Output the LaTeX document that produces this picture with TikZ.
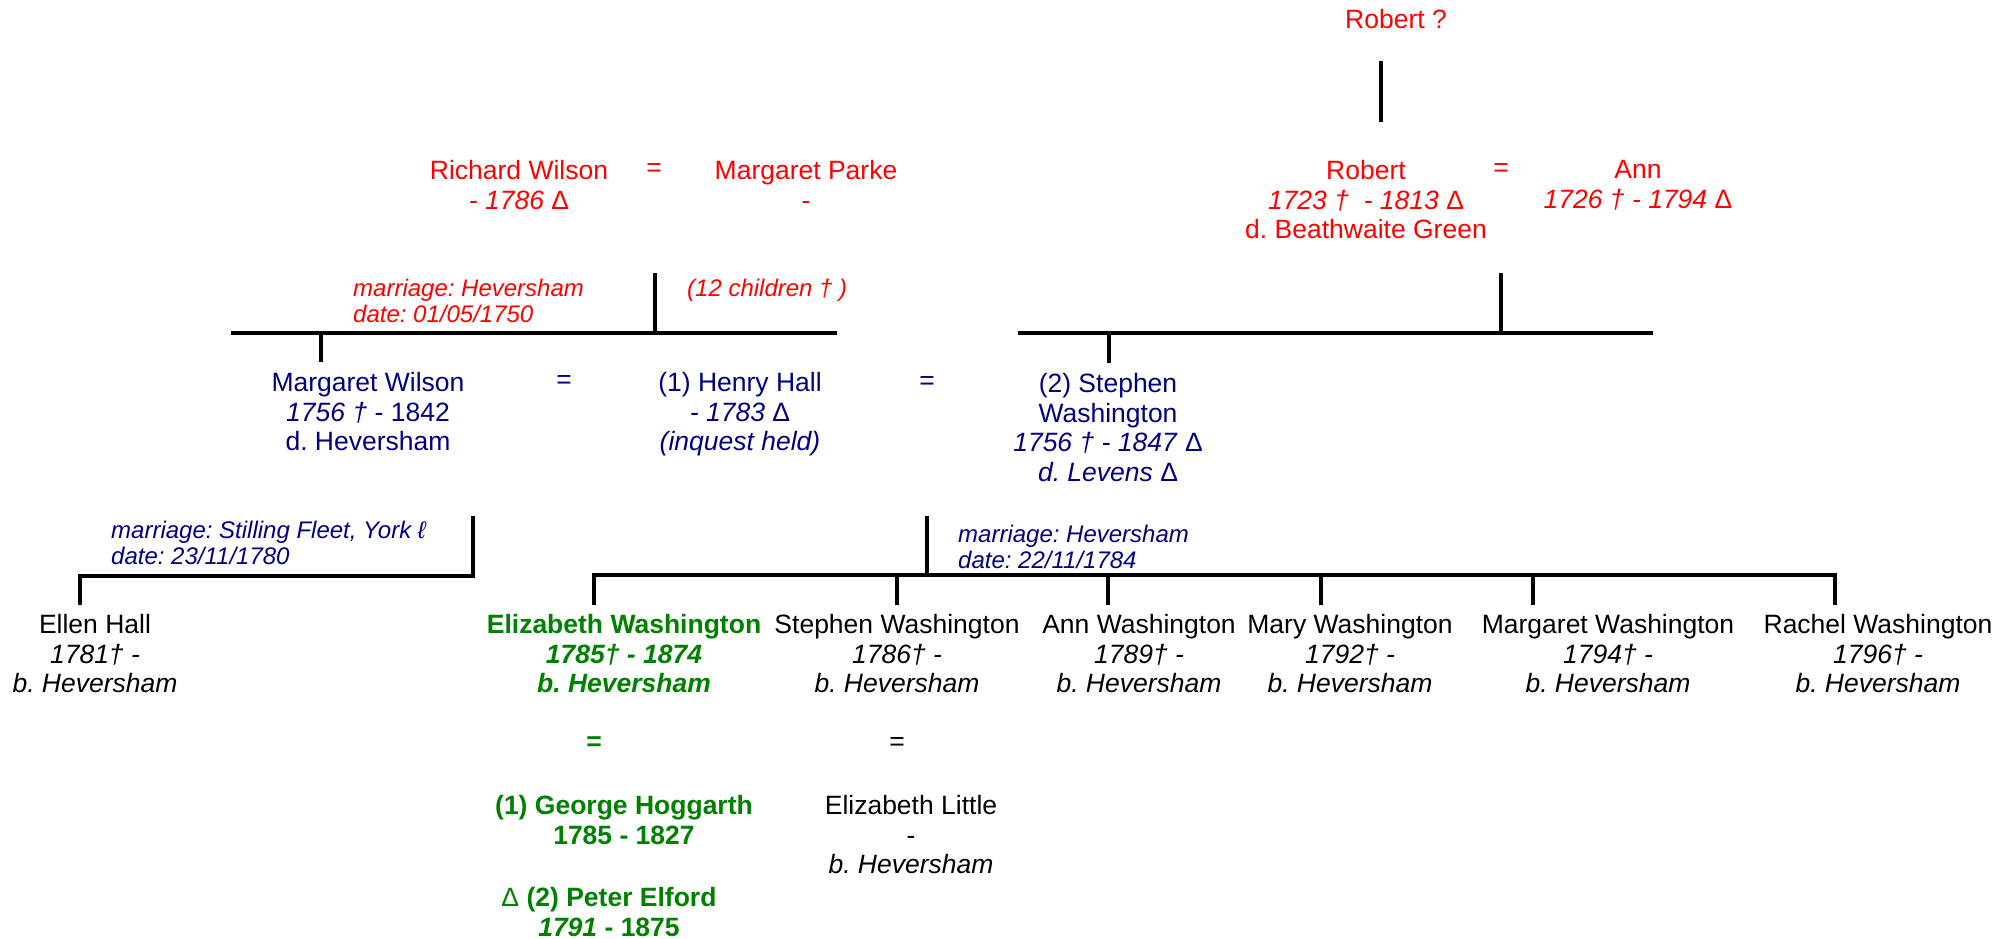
\documentclass[tikz,border=0pt]{standalone}
\usepackage{fontspec}
\setmainfont{Liberation Sans}
\usetikzlibrary{calc}
\definecolor{wred}{RGB}{255,0,0}
\definecolor{wblue}{RGB}{0,0,128}
\definecolor{wgreen}{RGB}{0,128,0}
\def\deltasym{\textup{\mdseries Δ}}
\frenchspacing
\tikzset{
  person/.style={anchor=north, align=center, inner sep=0pt, font=\fontsize{26.5}{29.5}\selectfont},
  boldperson/.style={person, font=\fontsize{26.5}{29.5}\selectfont\bfseries},
  wed/.style={inner sep=0pt, font=\fontsize{26.5}{29.5}\selectfont},
  remark/.style={anchor=north west, align=left, inner sep=0pt, font=\fontsize{24}{26.5}\selectfont\itshape},
  bar/.style={line width=3.4pt},
}

\begin{document}
\begin{tikzpicture}[x=1pt,y=-1pt]
			%%%%% START %%%%%
			\useasboundingbox (0,0) rectangle (2013,939);
			
			% grandparents
			\node[person, text=wred] (robq) at (1396, 9.5) {Robert ?};
			\coordinate (robqdrop) at (1381, 61);
			\draw[bar] (robqdrop) -- ++(0, 61);
			
			\node[person, text=wred] (richard) at (519, 160.5) {Richard Wilson\\\textit{- 1786 \deltasym}};
			\node[wed, text=wred] (eqrichard) at (654, 170) {=};
			\node[person, text=wred] (parke) at (806, 160.5) {Margaret Parke\\-};
			
			\node[person, text=wred] (robert) at (1366, 160.5) {Robert\\\textit{1723 †\ \ - 1813 \deltasym}\\d. Beathwaite Green};
			\node[wed, text=wred] (eqrobert) at (1501, 170) {=};
			\node[person, text=wred] (ann) at (1638, 160.5) {Ann\\\textit{1726 † - 1794 \deltasym}};
			
			\node[remark, text=wred] (wilsonwed) at (353, 278.5) {marriage: Heversham\\date: 01/05/1750};
			\node[remark, text=wred] (wilsonkids) at (687, 278.5) {(12 children † )};
			
			\coordinate (wilsonbarL) at (231, 333);
			\coordinate (wilsonbarR) at (837, 333);
			\coordinate (wilsonbarM) at (655, 333);
			\draw[bar] (wilsonbarL) -- (wilsonbarR);
			\draw[bar] (wilsonbarM) -- ++(0, -60);
			\draw[bar] (321, 333) -- (321, 362);
			
			\coordinate (robertbarL) at (1018, 333);
			\coordinate (robertbarR) at (1653, 333);
			\coordinate (robertbarM) at (1501, 333);
			\draw[bar] (robertbarL) -- (robertbarR);
			\draw[bar] (robertbarM) -- ++(0, -60);
			\draw[bar] (1109, 333) -- (1109, 363);
			
			% parents
			\node[person, text=wblue] (mwilson) at (368, 372.5) {Margaret Wilson\\\textit{1756 †} - 1842\\d. Heversham};
			\node[wed, text=wblue] (eqhenry) at (564, 382) {=};
			\node[person, text=wblue] (henry) at (740, 372.5) {(1) Henry Hall\\\textit{- 1783 \deltasym}\\\textit{(inquest held)}};
			\node[wed, text=wblue] (eqstephen) at (927, 383) {=};
			\node[person, text=wblue] (stephen) at (1108, 373.5) {(2) Stephen\\Washington\\\textit{1756 † - 1847 \deltasym}\\\textit{d. Levens \deltasym}};
			
			\node[remark, text=wblue] (hallwed) at (111, 520.5) {marriage: Stilling Fleet, York ℓ\\date: 23/11/1780};
			\node[remark, text=wblue] (washwed) at (958, 524.5) {marriage: Heversham\\date: 22/11/1784};
			
			\coordinate (hallbarR) at (473, 576);
			\coordinate (hallbarL) at (80, 576);
			\draw[bar] (473, 516) -- (hallbarR) -- (hallbarL) -- (80, 605);
			
			\coordinate (washbarL) at (594, 575);
			\coordinate (washbarR) at (1835, 575);
			\draw[bar] (594, 605) -- (washbarL) -- (washbarR) -- (1835, 605);
			\draw[bar] (927, 516) -- (927, 575);
			\foreach \xdrop in {897, 1108, 1321, 1533}
				\draw[bar] (\xdrop, 575) -- (\xdrop, 605);
			
			% children
			\node[person] (ellen) at (95, 614.5) {Ellen Hall\\\textit{1781† -}\\\textit{b. Heversham}};
			\node[boldperson, text=wgreen] (elizabeth) at (624, 614.5) {Elizabeth Washington\\\textit{1785† - 1874}\\\textit{b. Heversham}};
			\node[person] (stephenjr) at (897, 614.5) {Stephen Washington\\\textit{1786† -}\\\textit{b. Heversham}};
			\node[person] (annw) at (1139, 614.5) {Ann Washington\\\textit{1789† -}\\\textit{b. Heversham}};
			\node[person] (mary) at (1350, 614.5) {Mary Washington\\\textit{1792† -}\\\textit{b. Heversham}};
			\node[person] (margaret) at (1608, 614.5) {Margaret Washington\\\textit{1794† -}\\\textit{b. Heversham}};
			\node[person] (rachel) at (1878, 614.5) {Rachel Washington\\\textit{1796† -}\\\textit{b. Heversham}};
			
			% spouses of the children
			\node[wed, text=wgreen, font=\fontsize{26.5}{29.5}\selectfont\bfseries] (eqelizabeth) at (594, 744) {=};
			\node[wed] (eqstephenjr) at (897, 744) {=};
			\node[boldperson, text=wgreen] (george) at (624, 795.5) {(1) George Hoggarth\\1785 - 1827};
			\node[boldperson, text=wgreen] (peter) at (609, 887.5) {\deltasym{} (2) Peter Elford\\\textit{1791} - 1875};
			\node[person] (little) at (911, 795.5) {Elizabeth Little\\-\\\textit{b. Heversham}};
			
			%%%%% END %%%%%
		\end{tikzpicture}
\end{document}
